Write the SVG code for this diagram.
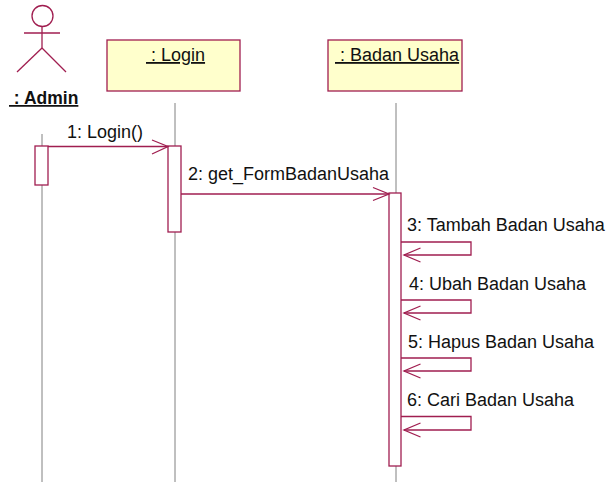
<svg xmlns="http://www.w3.org/2000/svg" width="609" height="482" viewBox="0 0 609 482">
<style>
.bg{fill:#ffffff}
.obj{fill:#ffffcc;stroke:#a01e50;stroke-width:1.3}
.act{fill:#ffffff;stroke:#a01e50;stroke-width:1.3}
.life{stroke:#808080;stroke-width:1;fill:none}
.msg{stroke:#a01e50;stroke-width:1.3;fill:none}
.actor{stroke:#a01e50;stroke-width:1.3;fill:none}
.t{font-family:"Liberation Sans",Arial,sans-serif;font-size:18px;fill:#111111}
.u{text-decoration:underline}
.b{font-weight:bold;font-size:17.5px}
</style>
<rect class="bg" x="0" y="0" width="609" height="482"/>
<g id="lifelines">
<line class="life" x1="42" y1="134" x2="42" y2="482"/>
<line class="life" x1="175" y1="103" x2="175" y2="482"/>
<line class="life" x1="396" y1="103" x2="396" y2="482"/>
</g>
<g id="admin">
<circle class="actor" cx="42.5" cy="16" r="10.5"/>
<line class="actor" x1="24" y1="33" x2="60" y2="33"/>
<line class="actor" x1="42" y1="27" x2="42" y2="48"/>
<line class="actor" x1="42" y1="48" x2="17" y2="72"/>
<line class="actor" x1="42" y1="48" x2="66" y2="72"/>
<text class="t u b" x="9" y="104" xml:space="preserve"> : Admin</text>
<rect class="act" x="35" y="146" width="13" height="39"/>
</g>
<g id="login">
<rect class="obj" x="107" y="40" width="133" height="51"/>
<text class="t u" x="146" y="61" xml:space="preserve"> : Login</text>
<rect class="act" x="168" y="146" width="13" height="86"/>
</g>
<g id="badanusaha">
<rect class="obj" x="328" y="40" width="134" height="51"/>
<text class="t u" x="335" y="61" xml:space="preserve"> : Badan Usaha</text>
<rect class="act" x="389" y="193" width="12" height="273"/>
</g>
<g id="connectors">
<line class="msg" x1="48" y1="146.5" x2="168" y2="146.5"/>
<polyline class="msg" points="152,140 168,146.5 152,154"/>
<text class="t" x="67" y="138">1: Login()</text>
<line class="msg" x1="181" y1="194" x2="389" y2="194"/>
<polyline class="msg" points="373,187.5 389,194 373,200.5"/>
<text class="t" x="188" y="180">2: get_FormBadanUsaha</text>
<polyline class="msg" points="401,242 471,242 471,255 404,255"/>
<polyline class="msg" points="420.5,248 404,255 420.5,262"/>
<text class="t" x="407" y="231">3: Tambah Badan Usaha</text>
<polyline class="msg" points="401,300 471,300 471,313 404,313"/>
<polyline class="msg" points="420.5,306 404,313 420.5,320"/>
<text class="t" x="409" y="290">4: Ubah Badan Usaha</text>
<polyline class="msg" points="401,358 471,358 471,371 404,371"/>
<polyline class="msg" points="420.5,364 404,371 420.5,378"/>
<text class="t" x="408" y="348">5: Hapus Badan Usaha</text>
<polyline class="msg" points="401,416.5 471,416.5 471,430 404,430"/>
<polyline class="msg" points="420.5,423 404,430 420.5,437"/>
<text class="t" x="407" y="406">6: Cari Badan Usaha</text>
</g>
</svg>
